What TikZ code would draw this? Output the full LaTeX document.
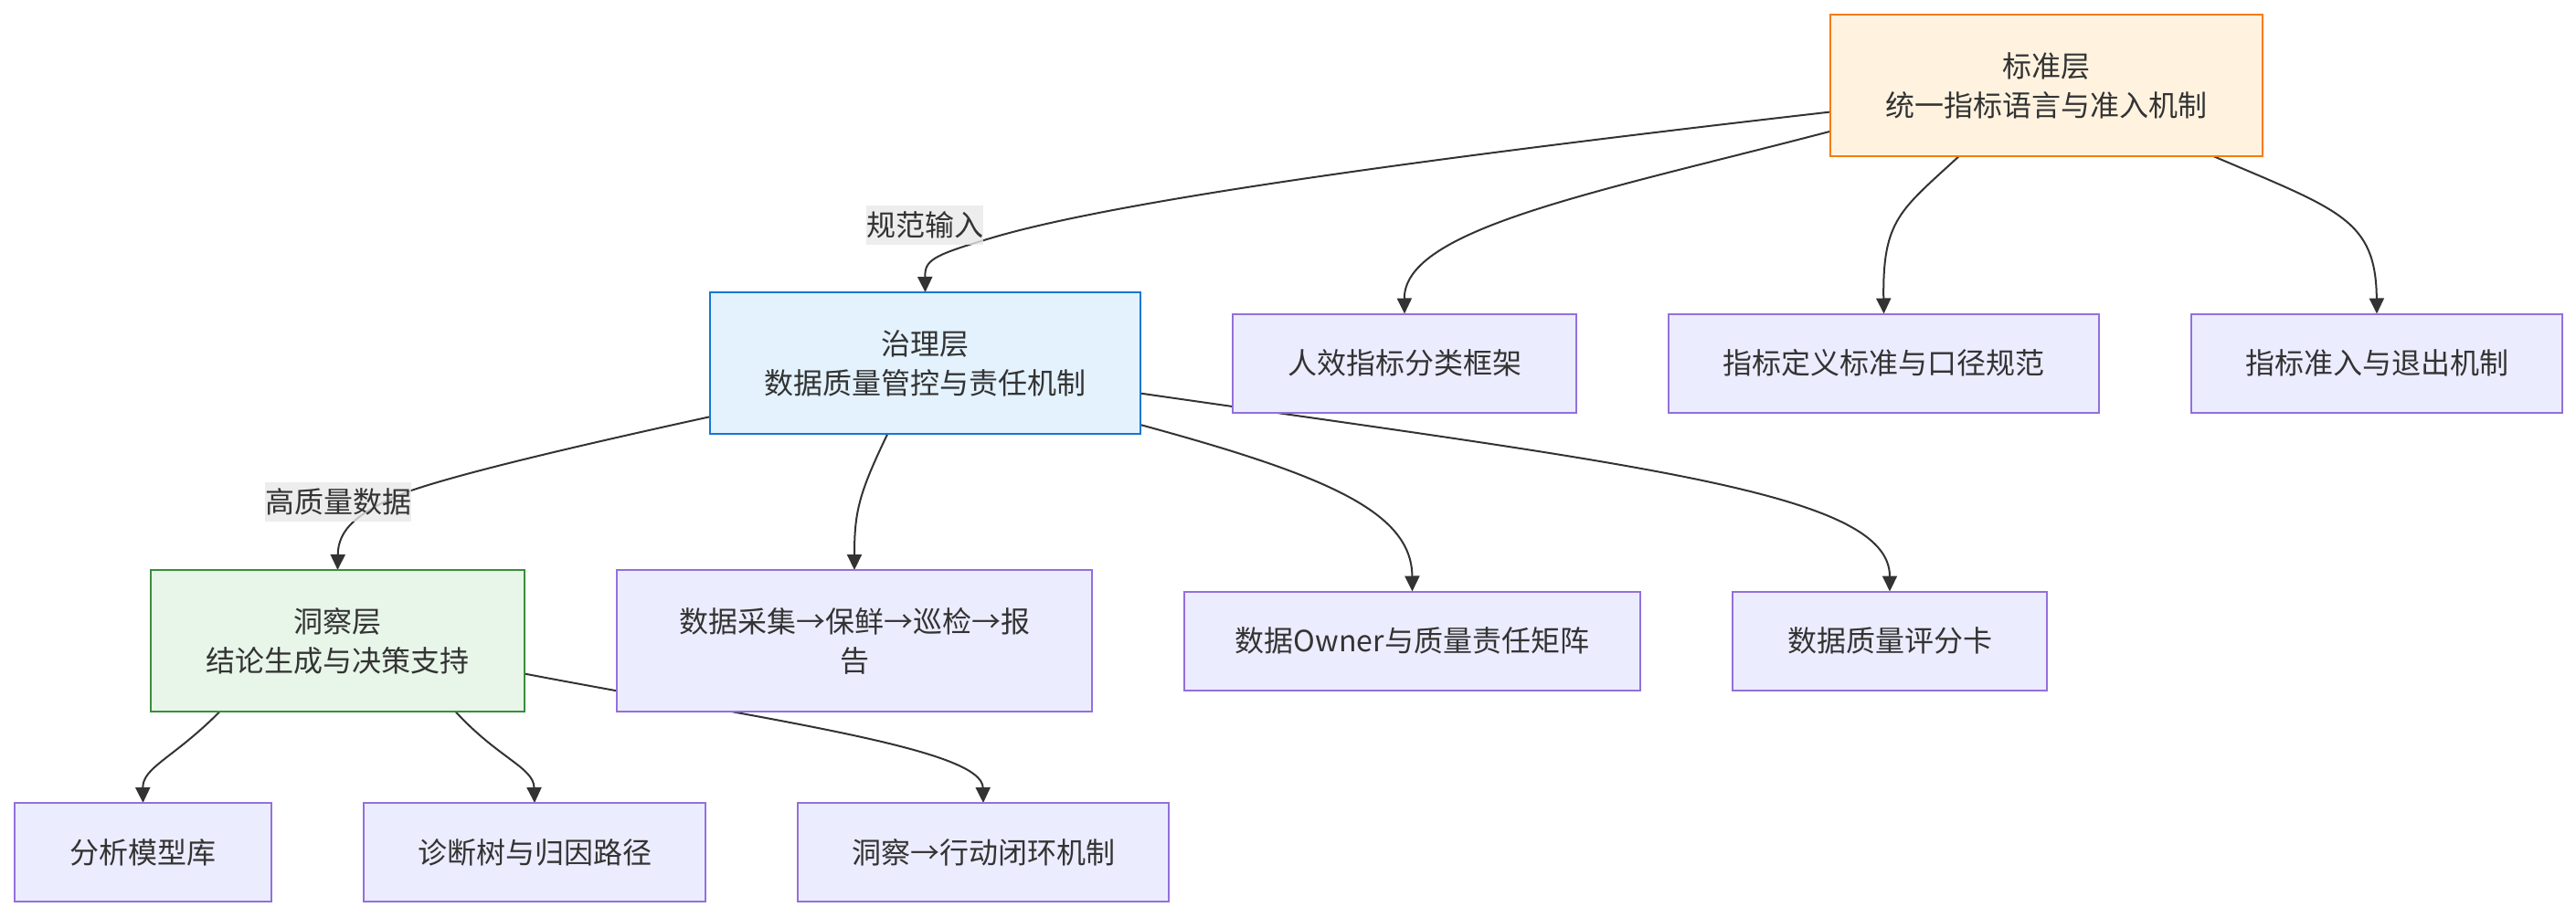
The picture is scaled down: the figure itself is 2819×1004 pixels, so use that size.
\documentclass[tikz,border=0pt]{standalone}
\usepackage{fontspec}
\setmainfont{Noto Sans CJK SC}
\usepackage{xcolor}
\usepackage{tikz}
\usetikzlibrary{positioning, backgrounds, arrows.meta}
\definecolor{mmink}{HTML}{333333}
\definecolor{mmleaf}{HTML}{ECECFF}
\definecolor{mmleafline}{HTML}{9370DB}
\definecolor{stdfill}{HTML}{FFF3E0}
\definecolor{stdline}{HTML}{F57C00}
\definecolor{govfill}{HTML}{E3F2FD}
\definecolor{govline}{HTML}{1976D2}
\definecolor{insfill}{HTML}{E8F5E9}
\definecolor{insline}{HTML}{388E3C}
\definecolor{lblfill}{HTML}{E8E8E8}

\begin{document}
\begin{tikzpicture}[
  x=1pt, y=-1pt,
  node distance=101pt,
  layer/.style={draw, line width=2pt, outer sep=0pt, inner sep=0pt, align=center, text=mmink, font=\fontsize{32}{43}\selectfont, minimum height=155pt},
  leaf/.style={layer, draw=mmleafline, fill=mmleaf, minimum height=108pt},
  arr/.style={-{Triangle[length=17pt, width=16pt]}, line width=2pt, mmink},
  lbl/.style={fill=lblfill, fill opacity=0.8, text opacity=1, inner sep=0pt, minimum height=43pt, text=mmink, font=\fontsize{32}{43}\selectfont}
]
  \useasboundingbox (0,0) rectangle (2819,1004);

  % layers
  \node[layer, draw=stdline, fill=stdfill, minimum width=473pt] (std) at (2239.5,93.5) {标准层\\统一指标语言与准入机制};
  \node[layer, draw=govline, fill=govfill, minimum width=471pt] (gov) at (1012.5,397.5) {治理层\\数据质量管控与责任机制};
  \node[layer, draw=insline, fill=insfill, minimum width=409pt] (ins) at (369.5,701.5) {洞察层\\结论生成与决策支持};

  % standard layer items
  \node[leaf, minimum width=376pt, right=of gov] (kpi) {人效指标分类框架};
  \node[leaf, minimum width=471pt, right=of kpi] (def) {指标定义标准与口径规范};
  \node[leaf, minimum width=406pt, right=of def] (entry) {指标准入与退出机制};

  % governance layer items
  \node[leaf, minimum width=520pt, minimum height=155pt, right=of ins] (flow) {数据采集→保鲜→巡检→报\\告};
  \node[leaf, minimum width=499pt, right=of flow] (owner) {数据Owner与质量责任矩阵};
  \node[leaf, minimum width=344pt, right=of owner] (score) {数据质量评分卡};

  % insight layer items
  \node[leaf, minimum width=281pt] (model) at (156.5,933) {分析模型库};
  \node[leaf, minimum width=374pt, right=of model] (tree) {诊断树与归因路径};
  \node[leaf, minimum width=406pt, right=of tree] (loop) {洞察→行动闭环机制};

  \node[lbl, minimum width=126pt] (l1) at (1012,246) {规范输入};
  \node[lbl, minimum width=159pt] (l2) at (370,549) {高质量数据};

  \begin{scope}[on background layer]
    \draw[arr] (std.187) .. controls (1500,180) and (1200,225) .. (1080,262)
      .. controls (1020,280) and (1012,285) .. (gov.north);
    \draw[arr] (std.192) .. controls (1750,210) and (1536,250) .. (kpi.north);
    \draw[arr] (std.219) .. controls (2080,230) and (2060,240) .. (def.north);
    \draw[arr] (std.337) .. controls (2560,230) and (2600,240) .. (entry.north);

    \draw[arr] (gov.194) .. controls (600,495) and (500,520) .. (450,537)
      .. controls (390,560) and (370,580) .. (ins.north);
    \draw[arr] (gov.242) .. controls (940,540) and (935,560) .. (flow.north);
    \draw[arr] (gov.344) .. controls (1450,520) and (1545,560) .. (owner.north);
    \draw[arr] (gov.352) .. controls (1800,510) and (2068,540) .. (score.north);

    \draw[arr] (ins.211) .. controls (190,830) and (156,840) .. (model.north);
    \draw[arr] (ins.329) .. controls (545,830) and (584,840) .. (tree.north);
    \draw[arr] (ins.350) .. controls (850,790) and (1075,820) .. (loop.north);
  \end{scope}
\end{tikzpicture}
\end{document}
